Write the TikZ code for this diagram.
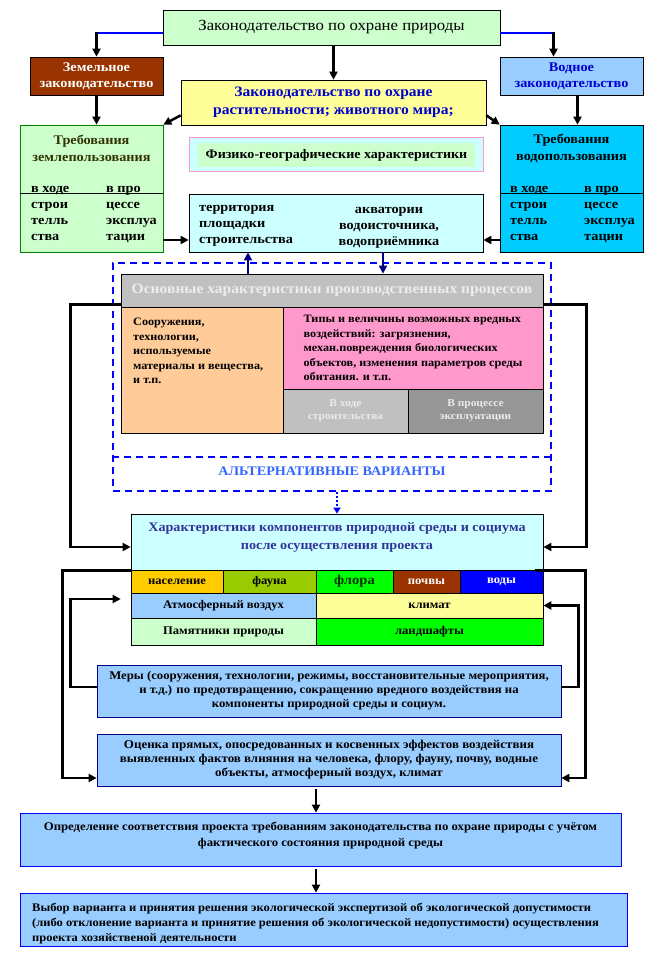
\documentclass[tikz,border=0pt]{standalone}
\usepackage{fontspec}
\setmainfont{Liberation Serif}[FakeStretch=1.08]
\usepackage{xcolor}
\usetikzlibrary{arrows.meta}
\usetikzlibrary{positioning}
\definecolor{zelsvet}{HTML}{CCFFCC}
\definecolor{zeltemn}{HTML}{008000}
\definecolor{oliv}{HTML}{333300}
\definecolor{zheltyi}{HTML}{FFFF99}
\definecolor{korichn}{HTML}{993300}
\definecolor{golub}{HTML}{99CCFF}
\definecolor{biryuz}{HTML}{00CCFF}
\definecolor{svetgol}{HTML}{CCFFFF}
\definecolor{rozov}{HTML}{FF99CC}
\definecolor{persik}{HTML}{FFCC99}
\definecolor{seryi}{HTML}{C0C0C0}
\definecolor{temnoser}{HTML}{969696}
\definecolor{oranzh}{HTML}{FFCC00}
\definecolor{salat}{HTML}{99CC00}
\definecolor{yarzel}{HTML}{00FF00}
\definecolor{sinii}{HTML}{0000FF}
\definecolor{sintekst}{HTML}{0000CC}
\definecolor{temnosin}{HTML}{000080}
\definecolor{indigo}{HTML}{333399}
\definecolor{altsin}{HTML}{3366FF}
\newcommand{\shr}[2]{\fontsize{#1}{#2}\selectfont}
\tikzset{
  blok/.style={draw, line width=0.7pt, align=center, inner sep=1pt, font=\bfseries\shr{11.7}{14}},
  razmer/.style 2 args={minimum width=#1, minimum height=#2},
  tekst/.style={inner sep=0pt, align=left, font=\bfseries\shr{13.2}{16}},
  yach/.style={draw, line width=0.6pt, inner sep=0pt, font=\bfseries\shr{11.7}{13}},
  strelka/.style={-{Triangle[length=8pt, width=8pt]}, line width=2.5pt},
  sinlin/.style={line width=2.5pt, sinii},
  punktir/.style={draw=sinii, line width=1.8pt, dash pattern=on 7pt off 5pt},
}

\begin{document}
\begin{tikzpicture}[x=1pt, y=-1pt]
  \useasboundingbox (0,0) rectangle (657,958);
  % zakonodatelstvo
  \node[blok, razmer={337}{35}, fill=zelsvet, font=\shr{15.5}{18}] (zakon) at (331.5,27.5) {Законодательство по охране природы};
  \node[blok, razmer={133}{38}, fill=korichn, text=white, font=\bfseries\shr{13.2}{16}] (zemel) at (96.5,76) {Земельное\\законодательство};
  \node[blok, razmer={143}{38}, fill=golub, text=sintekst, font=\bfseries\shr{13.2}{16}] (vodn) at (571.5,76) {Водное\\законодательство};
  \node[blok, razmer={305}{45}, fill=zheltyi, text=sintekst, font=\bfseries\shr{14.4}{18}] (rast) at (333.5,102.5) {Законодательство по охране\\растительности; животного мира;};
  % trebovaniya
  \node[blok, razmer={143}{127}, fill=zelsvet, draw=zeltemn] (zemtreb) at (91.5,188.5) {};
  \node[blok, razmer={143}{127}, fill=biryuz] (vodtreb) at (571.5,188.5) {};
  \draw[line width=0.7pt] (zemtreb.west |- 0,193) -- (zemtreb.east |- 0,193);
  \draw[line width=0.7pt] (vodtreb.west |- 0,193) -- (vodtreb.east |- 0,193);
  \node[tekst, align=center, text=oliv, font=\bfseries\shr{13.2}{17}] (zemzag) at (91.5,148.5) {Требования\\землепользования};
  \node[tekst, align=center, font=\bfseries\shr{13.2}{17}] (vodzag) at (571.5,148.5) {Требования\\водопользования};
  \node[tekst, anchor=north west] (zemA) at (31,186) {в ходе\\строи\\телль\\ства};
  \node[tekst, anchor=north west] (zemB) at (106,186) {в про\\цессе\\эксплуа\\тации};
  \node[tekst, anchor=north west] (vodA) at (510,186) {в ходе\\строи\\телль\\ства};
  \node[tekst, anchor=north west] (vodB) at (584,186) {в про\\цессе\\эксплуа\\тации};
  % fiziko-geograficheskie
  \node[blok, razmer={294}{34}, fill=svetgol, draw=rozov] (fizgeo) at (336,154) {};
  \node[tekst, razmer={277}{24}, fill=zelsvet, align=center, font=\bfseries\shr{13}{15}] (fizgeotekst) at (336.5,155) {Физико-географические характеристики};
  \node[blok, razmer={294}{58}, fill=svetgol] (terr) at (336,223) {};
  \node[tekst, anchor=north west] (terrL) at (199,205) {территория\\площадки\\строительства};
  \node[tekst, align=center] (terrR) at (389,228) {акватории\\водоисточника,\\водоприёмника};
  % alternativnye varianty
  \node[punktir, razmer={438}{228}] (alt) at (332,377) {};
  \draw[punktir] (alt.west |- 0,457) -- (alt.east |- 0,457);
  \node[tekst, text=altsin, font=\bfseries\shr{13.1}{16}] (alttekst) at (332,471) {АЛЬТЕРНАТИВНЫЕ ВАРИАНТЫ};
  \node[blok, razmer={422}{33}, fill=seryi, text=white!93!black, font=\bfseries\shr{14.4}{16}] (osn) at (332,290.5) {Основные характеристики производственных процессов};
  \node[blok, razmer={162}{126}, fill=persik] (sooruzh) at (202,370) {};
  \node[tekst, anchor=north west, font=\bfseries\shr{11.3}{14.5}] (sooruzhtekst) at (133,318) {Сооружения,\\технологии,\\используемые\\материалы и вещества,\\и т.п.};
  \node[blok, razmer={260}{82}, fill=rozov, align=left, font=\bfseries\shr{11.3}{14.5}] (tipy) at (413,348) {Типы и величины возможных вредных\\воздействий: загрязнения,\\механ.повреждения биологических\\объектов, изменения параметров среды\\обитания. и т.п.};
  \node[blok, razmer={125}{44}, fill=seryi, text=white!92!black, font=\bfseries\shr{10.6}{13}] (stroit) at (345.5,411) {В ходе\\строительства};
  \node[blok, razmer={135}{44}, fill=temnoser, text=white!92!black, font=\bfseries\shr{10.6}{13}] (ekspl) at (475.5,411) {В процессе\\эксплуатации};
  % komponenty sredy
  \node[blok, razmer={412}{56}, fill=svetgol] (xar) at (337,542) {};
  \node[tekst, align=center, text=indigo, font=\bfseries\shr{13.1}{18}] (xartekst) at (337,537) {Характеристики компонентов природной среды и социума\\после осуществления проекта};
  \node[yach, razmer={92}{23}, fill=oranzh] (nasel) at (177,581.5) {население};
  \node[yach, razmer={93}{23}, fill=salat] (fauna) at (269.5,581.5) {фауна};
  \node[yach, razmer={77}{23}, fill=yarzel, text=black!80!green, font=\bfseries\shr{13.5}{14}] (flora) at (354.5,581.5) {флора};
  \node[yach, razmer={67}{23}, fill=korichn, text=white] (pochv) at (426.5,581.5) {почвы};
  \node[yach, razmer={83}{23}, fill=sinii, text=white] (vody) at (501.5,581.5) {воды};
  \node[yach, razmer={185}{25}, fill=golub] (atm) at (223.5,605.5) {Атмосферный воздух};
  \node[yach, razmer={227}{25}, fill=zheltyi] (klim) at (429.5,605.5) {климат};
  \node[yach, razmer={185}{27}, fill=zelsvet] (pamyat) at (223.5,631.5) {Памятники природы};
  \node[yach, razmer={227}{27}, fill=yarzel] (landsh) at (429.5,631.5) {ландшафты};
  % mery i ocenka
  \node[blok, razmer={464}{52}, fill=golub, draw=temnosin, font=\bfseries\shr{11.8}{14}] (mery) at (329,691) {Меры (сооружения, технологии, режимы, восстановительные мероприятия,\\и т.д.) по предотвращению, сокращению вредного воздействия на\\компоненты природной среды и социум.};
  \node[blok, razmer={464}{52}, fill=golub, draw=temnosin, font=\bfseries\shr{12}{14}] (ocen) at (329,760) {Оценка прямых, опосредованных и косвенных эффектов воздействия\\выявленных фактов влияния на человека, флору, фауну, почву, водные\\объекты, атмосферный воздух, климат};
  \node[blok, razmer={601}{53}, fill=golub, draw=sinii] (opred) at (320.5,839.5) {};
  \node[tekst, anchor=north, align=center, font=\bfseries\shr{11.8}{16}] (opredtekst) at (320.5,822) {Определение соответствия проекта требованиям законодательства по охране природы с учётом\\фактического состояния природной среды};
  \node[blok, razmer={607}{53}, fill=golub, draw=sinii] (vybor) at (323.5,919.5) {};
  \node[tekst, anchor=north west, font=\bfseries\shr{11.6}{15}] (vybortekst) at (32,903) {Выбор варианта и принятия решения экологической экспертизой об экологической допустимости\\(либо отклонение варианта и принятие решения об экологической недопустимости) осуществления\\проекта хозяйственой деятельности};
  % strelki
  \coordinate (urov) at (0,240);
  \coordinate (sred) at (316,0);
  \draw[sinlin] ([yshift=-5.5pt]zakon.west) -- ([yshift=-5.5pt]zakon.west -| zemel.north) coordinate (ugolL);
  \draw[strelka] ([yshift=1.25pt]ugolL) -- (zemel.north);
  \draw[sinlin] ([yshift=-5.5pt]zakon.east) -- ([yshift=-5.5pt, xshift=-18pt]zakon.east -| vodn.north) coordinate (ugolR);
  \draw[strelka] ([yshift=1.25pt]ugolR) -- ([xshift=-18pt]vodn.north);
  \draw[strelka] (zakon.south -| rast.north) -- (rast.north);
  \draw[strelka] (zemel.south) -- (zemel.south |- zemtreb.north);
  \draw[strelka] ([xshift=6pt]vodn.south) -- ([xshift=6pt]vodn.south |- vodtreb.north);
  \draw[strelka] ([yshift=10pt]rast.south west) -- (zemtreb.north east);
  \draw[strelka] ([yshift=10pt]rast.south east) -- (vodtreb.north west);
  \draw[strelka] (zemtreb.east |- urov) -- (terr.west |- urov);
  \draw[strelka] (vodtreb.west |- urov) -- (terr.east |- urov);
  \draw[strelka, temnosin] ([xshift=-84pt]osn.north) -- ([xshift=-84pt]osn.north |- terr.south);
  \draw[strelka, temnosin] ([xshift=51pt]osn.north |- terr.south) -- ([xshift=51pt]osn.north);
  \draw[-{Triangle[length=6pt, width=7pt]}, line width=2pt, sinii, dash pattern=on 2pt off 2pt] (alt.south -| xar.north) -- (xar.north);
  % petli
  \draw[strelka] ([yshift=3pt]osn.south west) -- ++(-50,0) |- ([yshift=-5pt]xar.west);
  \draw[strelka] ([yshift=3pt]osn.south east) -- ++(43,0) |- ([yshift=-5pt]xar.east);
  \draw[strelka] (xar.south west) -- ++(-68,0) |- ([yshift=-18pt]ocen.west);
  \draw[strelka] ([xshift=-8pt]xar.south east) -- ++(50,0) |- ([yshift=-18pt]ocen.east);
  \draw[strelka, shorten >=10pt] ([yshift=4pt]mery.west) -- ++(-26,0) |- ([yshift=6.5pt]atm.west);
  \draw[strelka] ([yshift=4pt]mery.east) -- ++(17,0) |- (klim.east);
  \draw[strelka, shorten <=3pt] (ocen.south -| sred) -- (opred.north -| sred);
  \draw[strelka, shorten <=3pt] (opred.south -| sred) -- (vybor.north -| sred);
\end{tikzpicture}
\end{document}
